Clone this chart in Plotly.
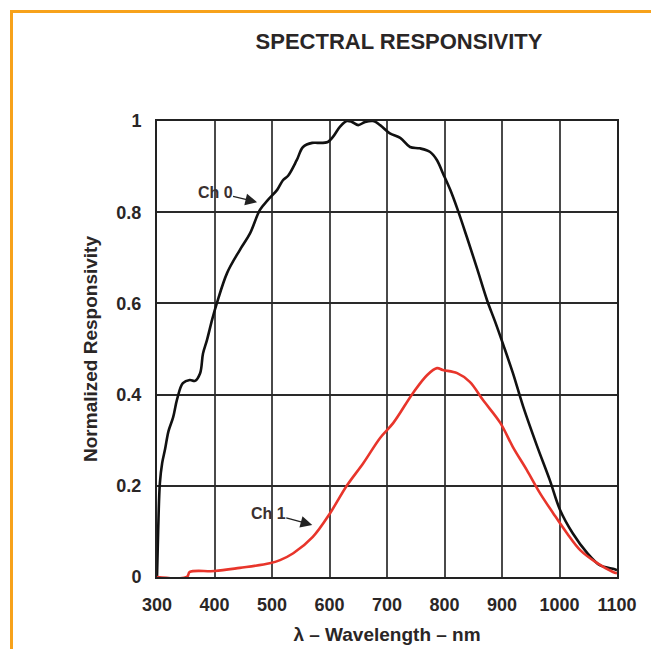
import plotly.graph_objects as go

# Ch 0 (black)
ch0_wl = [300, 302, 305, 309, 314, 320, 328, 335, 345, 357, 366, 375, 380, 387, 396, 404,
          422, 444, 462, 479, 493, 509, 519, 528, 543, 554, 570, 580, 597, 606, 618, 630,
          639, 650, 662, 676, 688, 705, 723, 740, 757, 775, 787, 797, 810, 823, 839, 857,
          874, 888, 902, 919, 937, 961, 983, 1001, 1023, 1048, 1070, 1093, 1100]
ch0_val = [0.0, 0.10, 0.206, 0.25, 0.28, 0.32, 0.35, 0.39, 0.425, 0.432, 0.43, 0.447, 0.49, 0.52, 0.565, 0.6,
           0.667, 0.717, 0.754, 0.805, 0.827, 0.849, 0.87, 0.88, 0.914, 0.943, 0.952, 0.952, 0.954, 0.965, 0.987, 1.0,
           0.998, 0.991, 0.998, 1.0, 0.991, 0.973, 0.963, 0.943, 0.94, 0.932, 0.914, 0.886, 0.849, 0.805, 0.745, 0.675,
           0.607, 0.56, 0.51, 0.447, 0.373, 0.287, 0.213, 0.147, 0.096, 0.053, 0.026, 0.018, 0.015]

# Ch 1 (red)
ch1_wl = [300, 352, 357, 400, 444, 496, 514, 537, 571, 601, 630, 659, 688, 711, 745, 770,
          787, 797, 822, 844, 867, 897, 919, 943, 966, 989, 1013, 1036, 1065, 1093, 1100]
ch1_val = [0.0, 0.0, 0.011, 0.013, 0.02, 0.03, 0.037, 0.052, 0.088, 0.14, 0.2, 0.25, 0.305, 0.338, 0.403, 0.443,
           0.458, 0.454, 0.447, 0.428, 0.388, 0.338, 0.285, 0.235, 0.184, 0.14, 0.096, 0.059, 0.031, 0.011, 0.008]

x_ticks = [300, 400, 500, 600, 700, 800, 900, 1000, 1100]
y_ticks = [0, 0.2, 0.4, 0.6, 0.8, 1.0]
y_ticktext = ["0", "0.2", "0.4", "0.6", "0.8", "1"]

FONT = "Liberation Sans, Arial, sans-serif"
ORANGE = "#F7A21B"
TXT = "#2a2626"

fig = go.Figure()
fig.add_trace(go.Scatter(x=ch0_wl, y=ch0_val, mode="lines", name="Ch 0",
                         line=dict(color="#111111", width=2.6), line_shape="spline"))
fig.add_trace(go.Scatter(x=ch1_wl, y=ch1_val, mode="lines", name="Ch 1",
                         line=dict(color="#E8352B", width=2.6), line_shape="spline"))

fig.update_layout(
    width=651, height=649,
    margin=dict(l=157, r=34, t=121, b=72),
    paper_bgcolor="white", plot_bgcolor="white",
    showlegend=False,
    font=dict(family=FONT, color=TXT),
    title=dict(text="<b>SPECTRAL RESPONSIVITY</b>", x=399 / 651, xanchor="center",
               y=1 - 41 / 649, yanchor="middle", font=dict(size=22, family=FONT, color=TXT)),
)

fig.update_xaxes(range=[300, 1100], tickvals=x_ticks, ticktext=[f"<b>{v}</b>" for v in x_ticks],
                 showgrid=True, gridcolor="#4a4a4a", gridwidth=1.6, automargin=False,
                 showline=True, linecolor="#222222", linewidth=2, mirror=True,
                 ticks="", ticklabelstandoff=10, zeroline=False,
                 tickfont=dict(size=18, family=FONT, color=TXT),
                 title=dict(text="<b>λ – Wavelength – nm</b>", standoff=14,
                            font=dict(size=19, family=FONT, color=TXT)))
fig.update_yaxes(range=[0, 1.0], tickvals=y_ticks, ticktext=[f"<b>{t}</b>" for t in y_ticktext],
                 showgrid=True, gridcolor="#2a2a2a", gridwidth=1.6, automargin=False,
                 showline=True, linecolor="#222222", linewidth=2, mirror=True,
                 ticks="", ticklabelstandoff=10, zeroline=False,
                 tickfont=dict(size=18, family=FONT, color=TXT),
                 title=dict(text="<b>Normalized Responsivity</b>", standoff=14,
                            font=dict(size=19, family=FONT, color=TXT)))

fig.add_annotation(x=474, y=0.822, xref="x", yref="y", text="<b>Ch 0</b>",
                   showarrow=True, arrowhead=2, arrowsize=1.8, arrowwidth=1.3, arrowcolor="#222222",
                   ax=-42, ay=-10, borderpad=0, font=dict(size=16, family=FONT, color="#3a3030"))
fig.add_annotation(x=570, y=0.114, xref="x", yref="y", text="<b>Ch 1</b>",
                   showarrow=True, arrowhead=2, arrowsize=1.8, arrowwidth=1.3, arrowcolor="#222222",
                   ax=-44, ay=-12, borderpad=0, font=dict(size=16, family=FONT, color="#3a3030"))

# orange frame (top and left edges)
fig.add_shape(type="line", xref="paper", yref="paper",
              x0=(11.5 - 157) / 460, x1=(660 - 157) / 460,
              y0=(577 - 11.5) / 456, y1=(577 - 11.5) / 456,
              line=dict(color=ORANGE, width=3))
fig.add_shape(type="line", xref="paper", yref="paper",
              x0=(11.5 - 157) / 460, x1=(11.5 - 157) / 460,
              y0=(577 - 10) / 456, y1=(577 - 660) / 456,
              line=dict(color=ORANGE, width=3))

fig.write_html("out.html")
